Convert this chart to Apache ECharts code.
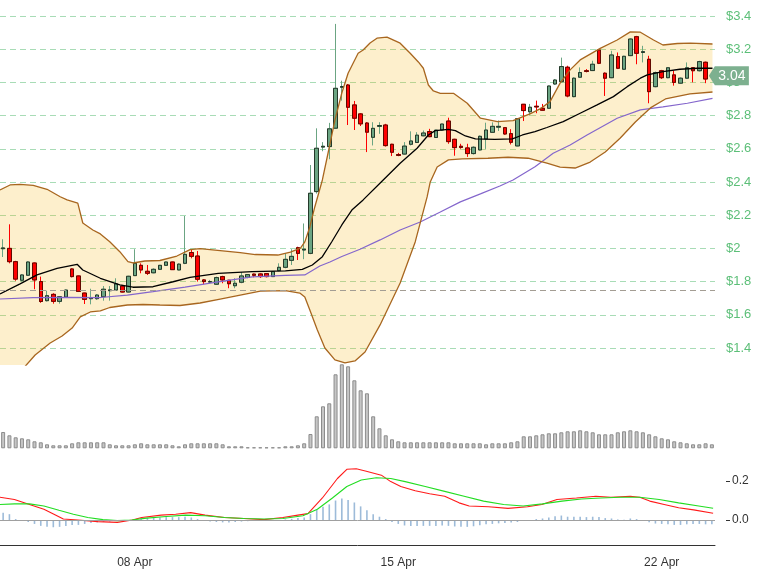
<!DOCTYPE html>
<html><head><meta charset="utf-8">
<script src="https://cdn.jsdelivr.net/npm/echarts@6/dist/echarts.min.js"></script>
<style>html,body{margin:0;padding:0;background:#fff}#c{width:765px;height:575px}</style>
</head><body><div id="c"></div>
<script>
// ---- data (4-hour candles, 04 Apr 12:00 -> 23 Apr 08:00) ----
const startDay = 4, startHour = 12, stepHours = 4;
const tickDays = ['08 Apr', '15 Apr', '22 Apr'];
const macdTicks = [0, 0.2];

const open = [1.998,2.0,1.92,1.808,1.838,1.912,1.8,1.685,1.723,1.681,
1.707,1.876,1.834,1.731,1.697,1.697,1.709,1.745,1.749,1.773,
1.737,1.836,1.898,1.862,1.853,1.874,1.898,1.918,1.87,1.91,
1.975,1.954,1.81,1.797,1.784,1.83,1.808,1.775,1.796,1.826,
1.845,1.846,1.848,1.83,1.866,1.886,1.928,2.004,1.99,1.97,
2.342,2.61,2.613,2.724,2.97,2.984,2.864,2.81,2.755,2.669,
2.735,2.743,2.627,2.565,2.568,2.627,2.638,2.678,2.704,2.668,
2.713,2.767,2.657,2.615,2.605,2.571,2.593,2.659,2.699,2.73,
2.727,2.691,2.617,2.868,2.823,2.856,2.844,2.844,2.99,3.004,
3.091,2.914,3.031,3.07,3.071,3.195,3.055,3.028,3.155,3.079,
3.161,3.275,3.18,3.139,2.974,3.07,3.028,3.045,2.995,3.025,
3.088,3.07,3.121,3.035];
const close = [2.003,1.92,1.815,1.84,1.918,1.81,1.68,1.715,1.681,1.709,
1.749,1.83,1.741,1.693,1.703,1.719,1.754,1.75,1.786,1.737,
1.832,1.91,1.87,1.85,1.874,1.898,1.918,1.872,1.905,1.964,
1.952,1.814,1.8,1.8,1.824,1.81,1.787,1.79,1.834,1.842,
1.838,1.83,1.83,1.86,1.886,1.934,1.952,1.97,1.995,2.332,
2.603,2.615,2.72,2.964,2.975,2.85,2.784,2.75,2.7,2.723,
2.74,2.619,2.579,2.56,2.616,2.647,2.682,2.695,2.673,2.712,
2.749,2.643,2.607,2.608,2.571,2.609,2.675,2.713,2.735,2.735,
2.689,2.639,2.781,2.83,2.85,2.852,2.832,2.978,3.014,3.095,
2.918,3.025,3.059,3.066,3.109,3.115,3.025,3.165,3.085,3.157,
3.261,3.175,3.185,2.944,3.059,3.028,3.088,3.0,3.025,3.088,
3.07,3.125,3.02,3.04];
const high = [2.055,2.145,1.925,1.845,1.922,1.915,1.83,1.745,1.73,1.712,
1.752,1.88,1.836,1.733,1.757,1.725,1.773,1.773,1.82,1.78,
1.835,1.995,1.91,1.9,1.88,1.9,1.92,1.92,1.91,2.195,
1.99,1.984,1.815,1.81,1.83,1.835,1.81,1.82,1.857,1.845,
1.848,1.85,1.85,1.862,1.91,1.97,1.995,2.01,2.15,2.502,
2.723,2.64,2.756,3.352,3.01,2.99,2.888,2.815,2.76,2.76,
2.76,2.75,2.63,2.575,2.64,2.705,2.7,2.71,2.72,2.715,
2.75,2.787,2.66,2.63,2.63,2.615,2.68,2.757,2.759,2.77,
2.73,2.718,2.785,2.87,2.87,2.89,2.87,2.98,3.02,3.149,
3.1,3.03,3.09,3.08,3.13,3.2,3.06,3.19,3.18,3.16,
3.265,3.28,3.22,3.16,3.065,3.075,3.09,3.07,3.03,3.12,
3.09,3.13,3.125,3.045];
const low = [1.948,1.91,1.805,1.8,1.835,1.754,1.672,1.68,1.667,1.667,
1.703,1.825,1.737,1.665,1.663,1.69,1.685,1.685,1.745,1.735,
1.735,1.835,1.85,1.84,1.85,1.872,1.896,1.87,1.868,1.905,
1.94,1.8,1.784,1.79,1.78,1.79,1.76,1.76,1.79,1.82,
1.826,1.822,1.825,1.828,1.862,1.88,1.9,1.93,1.935,1.965,
2.33,2.585,2.537,2.72,2.89,2.743,2.713,2.737,2.58,2.62,
2.69,2.613,2.556,2.555,2.565,2.62,2.635,2.675,2.67,2.665,
2.71,2.63,2.558,2.6,2.551,2.565,2.59,2.599,2.695,2.707,
2.685,2.626,2.615,2.767,2.8,2.814,2.83,2.84,2.985,3.0,
2.91,2.91,3.028,3.06,3.068,3.11,2.918,3.025,3.08,3.075,
3.158,3.109,3.12,2.874,2.97,3.02,3.025,2.98,2.99,3.02,
3.0,3.065,2.995,3.03];
// volume (thousands)
const volume = [163,130,110,100,90,70,60,40,30,30,
30,50,60,60,60,60,60,40,30,30,
30,40,50,40,40,40,40,30,20,40,
50,50,50,50,50,40,20,20,20,10,
10,10,10,10,10,20,20,30,50,143,
320,420,450,740,840,820,680,580,550,320,
200,130,90,70,60,60,60,60,60,60,
60,60,50,50,50,50,50,40,50,50,
50,60,70,120,120,130,140,150,150,160,
170,170,180,170,160,140,140,140,160,170,
180,170,160,140,120,100,90,70,60,50,
40,40,50,40];
// MACD histogram
const macdHist = [0.037,0.03,0.005,-0.003,-0.01,-0.02,-0.03,-0.035,-0.037,-0.035,
-0.03,-0.025,-0.025,-0.02,-0.015,-0.012,-0.01,-0.008,-0.005,-0.002,
0,0.005,0.01,0.012,0.012,0.013,0.015,0.015,0.015,0.017,
0.013,0.005,-0.005,-0.008,-0.01,-0.012,-0.013,-0.01,-0.008,-0.006,
-0.005,-0.004,-0.003,-0.002,0,0.003,0.006,0.01,0.013,0.03,
0.055,0.068,0.08,0.1,0.11,0.103,0.09,0.07,0.05,0.03,
0.017,0.005,-0.01,-0.02,-0.028,-0.03,-0.03,-0.03,-0.03,-0.03,
-0.028,-0.03,-0.033,-0.035,-0.035,-0.032,-0.027,-0.022,-0.02,-0.017,
-0.015,-0.013,-0.01,-0.005,0,0.005,0.008,0.013,0.02,0.023,
0.017,0.017,0.017,0.015,0.017,0.015,0.01,0.008,0.003,0.002,
0.008,0.005,0,-0.012,-0.018,-0.02,-0.022,-0.025,-0.025,-0.022,
-0.02,-0.02,-0.022,-0.022];
// indicator lines: [candle position, value]
const bbUpper = [[-0.5,2.352],[1.1,2.382],[2.7,2.385],[4.8,2.380],[7.0,2.356],[9.1,2.311],[10.2,2.292],[11.9,2.273],[12.7,2.153],[14.3,2.111],[15.5,2.087],[17.0,2.040],[18.6,1.980],[19.9,1.920],[20.7,1.912],[22.6,1.924],[25.0,1.927],[27.7,1.954],[29.8,1.993],[31.4,1.999],[34.6,1.987],[37.8,1.974],[40.2,1.963],[43.8,1.960],[45.8,1.978],[47.4,2.001],[48.1,2.039],[48.9,2.129],[49.7,2.251],[50.9,2.412],[51.8,2.573],[52.9,2.773],[54.0,2.936],[55.0,3.055],[55.8,3.115],[56.6,3.175],[57.4,3.195],[58.5,3.237],[59.6,3.266],[61.2,3.272],[63.3,3.236],[64.9,3.175],[66.2,3.123],[67.0,3.085],[67.8,2.984],[68.6,2.948],[69.7,2.934],[71.8,2.934],[74.0,2.874],[76.1,2.784],[78.8,2.763],[81.3,2.770],[84.0,2.810],[85.6,2.840],[87.2,2.884],[88.8,2.995],[90.4,3.075],[92.0,3.135],[95.2,3.205],[97.9,3.255],[100.0,3.304],[101.6,3.302],[103.7,3.255],[105.2,3.225],[107.5,3.234],[109.6,3.236],[113.1,3.231]];
const bbLower = [[-0.5,1.099],[2.7,1.255],[5.1,1.358],[7.5,1.430],[9.4,1.472],[11.0,1.520],[12.3,1.587],[13.9,1.617],[15.5,1.623],[17.0,1.644],[19.8,1.659],[22.3,1.662],[25.0,1.659],[28.2,1.656],[31.4,1.671],[34.6,1.695],[37.8,1.719],[41.0,1.743],[45.0,1.746],[47.3,1.731],[48.1,1.707],[48.9,1.629],[50.1,1.508],[51.3,1.400],[52.9,1.328],[54.5,1.310],[56.1,1.322],[57.7,1.376],[60.1,1.539],[63.3,1.792],[65.7,2.039],[67.6,2.310],[68.1,2.400],[69.2,2.490],[71.0,2.533],[73.2,2.539],[77.3,2.543],[80.5,2.549],[83.7,2.543],[86.7,2.514],[88.8,2.490],[91.2,2.484],[93.6,2.520],[96.0,2.581],[98.4,2.665],[100.8,2.761],[103.2,2.846],[105.6,2.900],[109.5,2.930],[113.1,2.942]];
const bbMiddle = [[-0.5,1.725],[2.7,1.786],[5.4,1.840],[8.6,1.880],[11.8,1.904],[12.7,1.870],[15.5,1.820],[18.6,1.780],[20.7,1.766],[23.9,1.769],[27.1,1.799],[29.8,1.825],[34.3,1.850],[39.7,1.860],[45.0,1.864],[47.7,1.874],[49.3,1.900],[50.9,1.950],[52.4,2.040],[54.0,2.141],[55.6,2.231],[57.4,2.292],[60.6,2.412],[63.3,2.513],[66.0,2.603],[67.8,2.683],[68.9,2.709],[71.0,2.717],[72.1,2.709],[73.7,2.677],[75.3,2.659],[78.4,2.657],[81.2,2.659],[82.8,2.683],[84.8,2.703],[86.7,2.728],[89.3,2.763],[92.0,2.814],[94.7,2.864],[97.3,2.914],[99.5,2.974],[101.6,3.025],[102.7,3.045],[105.2,3.064],[107.9,3.079],[110.7,3.085],[113.1,3.085]];
const maSlow = [[-0.5,1.695],[4.8,1.703],[10.2,1.705],[15.5,1.704],[19.8,1.719],[23.9,1.739],[29.0,1.767],[34.3,1.798],[39.7,1.828],[45.0,1.837],[48.1,1.840],[50.5,1.894],[52.1,1.918],[54.0,1.951],[56.9,1.995],[60.1,2.051],[63.3,2.111],[66.5,2.159],[69.7,2.219],[72.9,2.280],[76.1,2.328],[79.2,2.376],[81.3,2.412],[84.8,2.492],[87.7,2.573],[90.4,2.623],[93.1,2.683],[97.9,2.784],[101.6,2.834],[105.2,2.852],[109.1,2.874],[113.1,2.904]];
const macdLine = [[-0.5,0.117],[1.8,0.105],[4.2,0.08],[6.5,0.055],[8.1,0.03],[9.6,0.005],[11.9,0],[15.1,-0.008],[18.2,-0.012],[20.6,0],[22.1,0.013],[25.2,0.025],[27.5,0.03],[29.9,0.038],[32.2,0.025],[35.3,0.013],[38.4,0.008],[41.6,0.002],[44.6,0.013],[47.0,0.025],[48.6,0.033],[50.9,0.113],[53.3,0.213],[54.8,0.26],[56.3,0.263],[57.9,0.25],[60.3,0.23],[61.8,0.197],[63.4,0.172],[65.7,0.15],[68.0,0.135],[70.4,0.122],[72.7,0.088],[74.3,0.072],[77.4,0.068],[80.5,0.06],[83.6,0.068],[85.9,0.08],[88.3,0.105],[91.4,0.113],[94.5,0.122],[96.9,0.117],[100.0,0.122],[101.5,0.117],[103.1,0.097],[105.4,0.08],[107.7,0.063],[110.1,0.052],[113.2,0.035]];
const signalLine = [[-0.5,0.08],[1.8,0.083],[4.2,0.083],[6.5,0.072],[8.9,0.05],[11.2,0.03],[13.5,0.013],[15.9,0.002],[18.2,-0.003],[20.5,0],[22.9,0.01],[26.0,0.018],[29.1,0.025],[32.2,0.022],[35.3,0.013],[38.4,0.008],[41.6,0.005],[44.6,0.008],[47.8,0.022],[50.1,0.055],[52.5,0.113],[54.8,0.172],[57.1,0.205],[59.5,0.217],[61.8,0.213],[64.1,0.197],[67.3,0.172],[70.4,0.147],[73.5,0.122],[76.6,0.097],[79.8,0.08],[82.9,0.072],[86.0,0.083],[89.1,0.097],[92.2,0.108],[95.3,0.113],[98.4,0.117],[101.5,0.117],[104.6,0.105],[107.7,0.088],[110.9,0.072],[113.2,0.06]];
const refPrice = 1.75;

// ---- build ----
const N = open.length;
const pad = n => (n < 10 ? '0' : '') + n;
const categories = [];
for (let i = 0; i < N; i++) {
  const t = startHour + i * stepHours;
  categories.push(pad(startDay + Math.floor(t / 24)) + ' Apr ' + pad(t % 24) + ':00');
}
const isTick = i => categories[i].endsWith(' 00:00') && tickDays.indexOf(categories[i].slice(0, 6)) >= 0;
const wickData = open.map((o, i) => [o, close[i], low[i], high[i]]);
const bodyData = open.map((o, i) => [o, close[i], Math.min(o, close[i]), Math.max(o, close[i])]);
const lastClose = close[N - 1];

const FONT = 'Helvetica, Arial, "Liberation Sans", sans-serif';
const UP = '#6BA583', DOWN = '#FF0000';

const chart = echarts.init(document.getElementById('c'), null, {renderer: 'canvas'});
chart.setOption({
  animation: false,
  backgroundColor: '#fff',
  grid: [
    {left: 0, right: 50, top: 0, height: 365},
    {left: 0, right: 50, top: 364, height: 84.3},
    {left: 0, right: 50, top: 458, height: 87}
  ],
  xAxis: [
    {type: 'category', gridIndex: 0, data: categories, boundaryGap: true, show: false},
    {type: 'value', gridIndex: 0, min: -0.5, max: N - 0.5, show: false},
    {type: 'category', gridIndex: 1, data: categories, boundaryGap: true, show: false},
    {type: 'category', gridIndex: 2, data: categories, boundaryGap: true,
      axisLine: {onZero: false, lineStyle: {color: '#333'}},
      axisTick: {alignWithLabel: true, interval: i => isTick(i), length: 5, lineStyle: {color: '#333'}},
      axisLabel: {interval: i => isTick(i), formatter: v => v.slice(0, 6), color: '#333', fontSize: 12, margin: 12, fontFamily: FONT},
      splitLine: {show: false}},
    {type: 'value', gridIndex: 2, min: -0.5, max: N - 0.5, show: false}
  ],
  yAxis: [
    {type: 'value', gridIndex: 0, position: 'right', min: 1.2976, max: 3.496, splitNumber: 11,
      minInterval: 0.2, maxInterval: 0.2,
      axisLine: {show: false}, axisTick: {show: false},
      axisLabel: {color: '#5cbf78', fontSize: 13, margin: 11, fontFamily: FONT,
        showMinLabel: false, showMaxLabel: false, formatter: v => '$' + (+v.toFixed(2))},
      splitLine: {show: true, showMinLine: false, showMaxLine: false,
        lineStyle: {color: '#a8dcb6', type: [6, 4], width: 1}}},
    {type: 'value', gridIndex: 1, min: 0, max: 843, show: false},
    {type: 'value', gridIndex: 2, position: 'right', min: -0.128, max: 0.318, offset: 11,
      axisLine: {show: false, onZero: false},
      axisTick: {show: true, length: 4, lineStyle: {color: '#333'}, customValues: macdTicks},
      axisLabel: {show: true, color: '#333', fontSize: 12, margin: 6, fontFamily: FONT, customValues: macdTicks,
        formatter: v => (+v).toFixed(1)},
      splitLine: {show: false}}
  ],
  series: [
    {name: 'wick', type: 'candlestick', xAxisIndex: 0, yAxisIndex: 0, data: wickData, barWidth: 4,
      itemStyle: {color: UP, color0: DOWN, borderColor: UP, borderColor0: DOWN, borderWidth: 1}, silent: true},
    {name: 'body', type: 'candlestick', xAxisIndex: 0, yAxisIndex: 0, data: bodyData, barWidth: 4,
      itemStyle: {color: UP, color0: DOWN, borderColor: 'rgba(20,30,20,0.8)', borderColor0: 'rgba(70,10,0,0.85)', borderWidth: 1},
      silent: true,
      markLine: {silent: true, symbol: 'none', label: {show: false},
        lineStyle: {color: '#a39d93', type: [6, 4], width: 1},
        data: [{yAxis: refPrice}]},
      markPoint: {silent: true,
        symbol: 'path://M0,10L7,0L47,0L47,20L7,20Z', symbolKeepAspect: false,
        symbolSize: [40, 19], symbolOffset: [17, 0],
        itemStyle: {color: '#7db08f'},
        label: {show: true, color: '#fff', fontSize: 14, fontFamily: FONT, offset: [3, 0],
          formatter: p => p.value.toFixed(2)},
        data: [{coord: [N - 1, lastClose], value: lastClose}]}},
    {name: 'maSlow', type: 'line', xAxisIndex: 1, yAxisIndex: 0, data: maSlow, showSymbol: false,
      lineStyle: {color: '#8466cc', width: 1.2}, silent: true},
    {name: 'bbMiddle', type: 'line', xAxisIndex: 1, yAxisIndex: 0, data: bbMiddle, showSymbol: false,
      lineStyle: {color: '#000', width: 1.3}, silent: true},
    {name: 'bbFill', type: 'custom', xAxisIndex: 1, yAxisIndex: 0, data: [[0, 2]], silent: true,
      encode: {x: 0, y: 1},
      renderItem: (params, api) => {
        const pts = bbUpper.map(p => api.coord(p)).concat(bbLower.slice().reverse().map(p => api.coord(p)));
        const cs = params.coordSys;
        return {type: 'polygon', shape: {points: pts}, style: {fill: 'rgba(246,184,24,0.22)'},
          clipPath: {type: 'rect', shape: {x: cs.x, y: cs.y, width: cs.width, height: cs.height}}};
      }},
    {name: 'bbUpper', type: 'line', xAxisIndex: 1, yAxisIndex: 0, data: bbUpper, showSymbol: false,
      lineStyle: {color: '#a8661f', width: 1.3}, silent: true},
    {name: 'bbLower', type: 'line', xAxisIndex: 1, yAxisIndex: 0, data: bbLower, showSymbol: false,
      lineStyle: {color: '#a8661f', width: 1.3}, silent: true},
    {name: 'volume', type: 'bar', xAxisIndex: 2, yAxisIndex: 1, data: volume, barWidth: 4,
      itemStyle: {color: '#c6c6c6', borderColor: '#8c8c8c', borderWidth: 1}, silent: true},
    {name: 'hist', type: 'bar', xAxisIndex: 3, yAxisIndex: 2, data: macdHist, barWidth: 1.6,
      itemStyle: {color: '#9dbbd9'}, silent: true,
      markLine: {silent: true, symbol: 'none', label: {show: false},
        lineStyle: {color: '#a0a0a0', type: 'solid', width: 1}, data: [{yAxis: 0}]}},
    {name: 'macd', type: 'line', xAxisIndex: 4, yAxisIndex: 2, data: macdLine, showSymbol: false,
      lineStyle: {color: '#ff1a1a', width: 1.1}, silent: true},
    {name: 'signal', type: 'line', xAxisIndex: 4, yAxisIndex: 2, data: signalLine, showSymbol: false,
      lineStyle: {color: '#22dd22', width: 1.1}, silent: true}
  ]
});
</script>
</body></html>
